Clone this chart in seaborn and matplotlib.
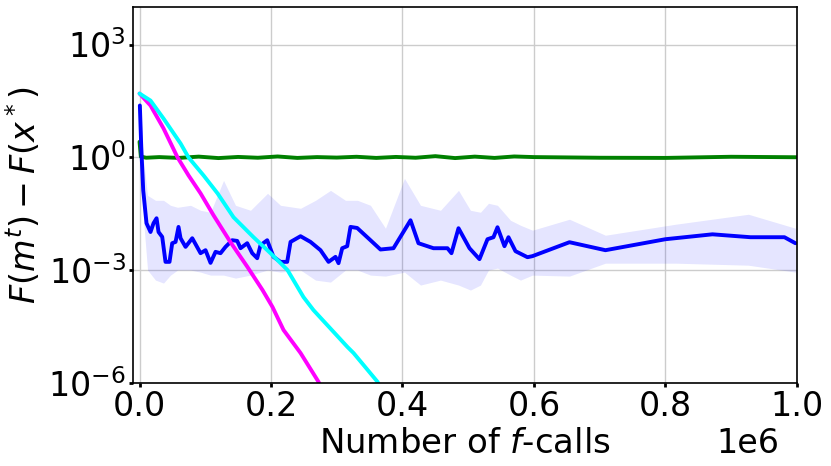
import numpy as np
import pandas as pd
import matplotlib
matplotlib.use("Agg")
import matplotlib.pyplot as plt
import seaborn as sns

# --- data (x in f-calls, y = F(m^t) - F(x*)) ---
green_x = [0, 2e3, 1e4, 3e4, 6e4, 9e4, 1.2e5, 1.5e5, 1.8e5, 2.1e5, 2.4e5, 2.7e5, 3.0e5,
           3.3e5, 3.6e5, 3.9e5, 4.2e5, 4.5e5, 4.8e5, 5.1e5, 5.4e5, 5.7e5, 6.0e5, 7.0e5,
           8.0e5, 9.0e5, 1.0e6]
green_y = [2.6, 1.05, 0.98, 1.02, 0.97, 1.05, 0.96, 1.03, 0.98, 1.06, 0.97, 1.02, 0.99,
           1.04, 0.97, 1.03, 0.98, 1.08, 0.96, 1.05, 0.97, 1.06, 1.02, 0.98, 0.97,
           1.04, 1.01]

blue_x = [500, 2600, 5600, 10600, 16700, 21300, 25900, 28900, 34500, 39500, 45600,
          49700, 54800, 59300, 62400, 70000, 80200, 92800, 100400, 108000, 115600,
          123200, 130800, 141000, 148600, 153600, 163800, 171400, 179000, 184000,
          194200, 203800, 214400, 224600, 229700, 244900, 260100, 275300, 287500,
          298100, 302700, 308300, 315900, 320900, 331100, 351300, 366500, 386300,
          412200, 424300, 447100, 468400, 474500, 485200, 501900, 517100, 529300,
          538400, 544500, 555100, 561200, 571900, 590100, 597700, 654000, 708700,
          800000, 871500, 929300, 981000, 997700]
blue_y = [24.0, 1.9, 0.133, 0.0178, 0.0104, 0.0178, 0.0241, 0.0104, 0.0077, 0.00167,
          0.00167, 0.00523, 0.00566, 0.0142, 0.0071, 0.00418, 0.0071, 0.00284, 0.00341,
          0.00157, 0.00308, 0.00284, 0.00418, 0.00628, 0.00602, 0.00385, 0.00523,
          0.00284, 0.00209, 0.00463, 0.00628, 0.00227, 0.00167, 0.00167, 0.00566,
          0.00803, 0.00566, 0.00341, 0.00167, 0.00227, 0.00154, 0.00385, 0.00436,
          0.0142, 0.0133, 0.00628, 0.00356, 0.00385, 0.0213, 0.00523, 0.00385,
          0.00385, 0.00284, 0.0131, 0.00385, 0.00197, 0.00668, 0.00755, 0.0139,
          0.00436, 0.00755, 0.00321, 0.00222, 0.00237, 0.00556, 0.00341, 0.00668,
          0.00902, 0.00755, 0.00755, 0.00523]

band_x = [1500, 6100, 12200, 24300, 36500, 47100, 57800, 77600, 92800, 108000, 127800,
          146000, 168800, 194700, 214400, 244900, 267700, 290500, 313300, 331600,
          351300, 374100, 403000, 427400, 457800, 485200, 503400, 518600, 530800,
          544500, 564300, 579500, 597700, 654000, 708700, 815200, 926200, 997700]
band_hi = [24.0, 0.83, 0.098, 0.0723, 0.0723, 0.0533, 0.0472, 0.0533, 0.0393, 0.0348,
           0.245, 0.0533, 0.0393, 0.111, 0.0533, 0.0444, 0.0723, 0.133, 0.0723, 0.0723,
           0.0533, 0.0131, 0.277, 0.0533, 0.0393, 0.133, 0.0393, 0.0348, 0.0603,
           0.0533, 0.0213, 0.0157, 0.0116, 0.0227, 0.00853, 0.0167, 0.0308, 0.0131]
band_lo = [1.53, 0.0213, 0.00101, 5.46e-4, 4.55e-4, 7.41e-4, 0.00101, 0.00101, 8.9e-4,
           7.41e-4, 7.41e-4, 6.17e-4, 7.41e-4, 0.00101, 8.9e-4, 0.00101, 5.46e-4,
           4.83e-4, 0.00101, 0.00101, 7.41e-4, 6.98e-4, 8.9e-4, 4.03e-4, 5.46e-4,
           4.03e-4, 2.97e-4, 4.03e-4, 0.00101, 0.00114, 7.41e-4, 5.46e-4, 7.41e-4,
           6.98e-4, 0.00154, 0.00154, 0.00136, 8.9e-4]

magenta_x = [0, 16700, 36500, 57800, 74500, 92800, 112500, 138400, 164300, 187100,
             202300, 219000, 244900, 272200, 278300]
magenta_y = [49.9, 24.0, 5.9, 1.0, 0.333, 0.111, 0.029, 0.00556, 0.00121, 2.97e-4,
             1.05e-4, 2.58e-5, 6.3e-6, 1.08e-6, 6.6e-7]

cyan_x = [0, 16700, 36500, 62400, 74500, 97300, 118600, 143000, 173400, 199200,
          225100, 249400, 264600, 316300, 325500, 362000, 366500]
cyan_y = [49.9, 32.5, 10.8, 2.35, 1.0, 0.333, 0.111, 0.0256, 0.00755, 0.00284,
          0.00101, 1.93e-4, 8.7e-5, 9.1e-6, 6.3e-6, 1.08e-6, 7.5e-7]

df = pd.concat([
    pd.DataFrame({"x": green_x, "y": green_y, "method": "g"}),
    pd.DataFrame({"x": blue_x, "y": blue_y, "method": "b"}),
    pd.DataFrame({"x": magenta_x, "y": magenta_y, "method": "m"}),
    pd.DataFrame({"x": cyan_x, "y": cyan_y, "method": "c"}),
])
colors = {"g": "green", "b": "blue", "m": "magenta", "c": "cyan"}

sns.set_style("white")
plt.rcParams["mathtext.fontset"] = "dejavusans"
plt.rcParams["text.color"] = "black"
plt.rcParams["axes.labelcolor"] = "black"
plt.rcParams["xtick.color"] = "black"
plt.rcParams["ytick.color"] = "black"

fig = plt.figure(figsize=(8.31, 4.66), dpi=100)
ax = fig.add_axes([0.160, 0.178, 0.799, 0.807])

ax.fill_between(band_x, band_lo, band_hi, color="blue", alpha=0.1, lw=0)
sns.lineplot(data=df, x="x", y="y", hue="method", palette=colors, sort=False,
             estimator=None, lw=2.8, legend=False, ax=ax)

ax.set_yscale("log")
ax.set_ylim(1e-6, 1e4)
ax.set_xlim(-1e4, 1e6)
ax.set_yticks([1e-6, 1e-3, 1e0, 1e3])
ax.grid(True, color="#cccccc", lw=1)
ax.minorticks_off()
for s in ax.spines.values():
    s.set_color("black")
    s.set_linewidth(1.2)
ax.tick_params(axis="both", labelsize=24, direction="out", length=3, width=2,
               color="black", pad=2, left=True, bottom=True)
ax.xaxis.get_offset_text().set_fontsize(24)
ax.xaxis.get_offset_text().set_x(0.973)
ax.set_xlabel("Number of $f$-calls", fontsize=24.5, labelpad=3)
ax.set_ylabel("$F(m^t) - F(x^*)$", fontsize=24)

fig.savefig("out.png", dpi=100)
